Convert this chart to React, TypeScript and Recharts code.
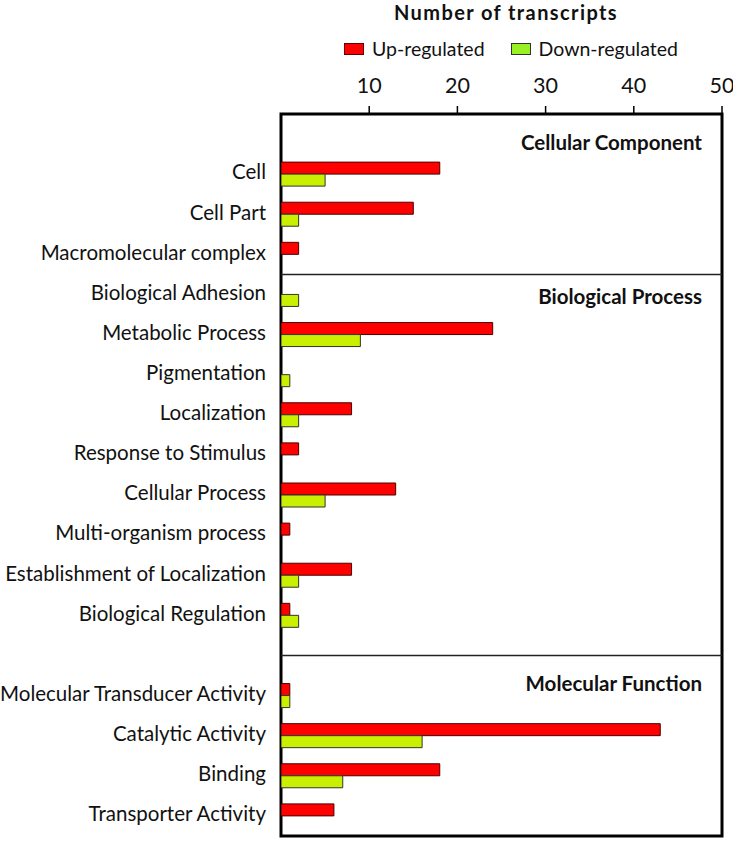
import React from "react";
import {
  BarChart,
  Bar,
  XAxis,
  YAxis,
  ReferenceLine,
  ReferenceArea,
  Legend,
} from "recharts";

// Categories (top to bottom). "" and " " are blank rows (section header / gap).
const categories: string[] = [
  "",
  "Cell",
  "Cell Part",
  "Macromolecular complex",
  "Biological Adhesion",
  "Metabolic Process",
  "Pigmentation",
  "Localization",
  "Response to Stimulus",
  "Cellular Process",
  "Multi-organism process",
  "Establishment of Localization",
  "Biological Regulation",
  " ",
  "Molecular Transducer Activity",
  "Catalytic Activity",
  "Binding",
  "Transporter Activity",
];

const upRegulated: (number | null)[] = [
  null, 18, 15, 2, null, 24, null, 8, 2, 13, 1, 8, 1, null, 1, 43, 18, 6,
];
const downRegulated: (number | null)[] = [
  null, 5, 2, null, 2, 9, 1, 2, null, 5, null, 2, 2, null, 1, 16, 7, null,
];

const xTicks: number[] = [10, 20, 30, 40, 50];
const title = "Number of transcripts";
const seriesNames = ["Up-regulated", "Down-regulated"];
const sectionTitles = ["Cellular Component", "Biological Process", "Molecular Function"];

const data = categories.map((c, i) => ({
  category: c,
  up: upRegulated[i],
  down: downRegulated[i],
}));

const FONT = "Lato, 'Open Sans', sans-serif";
const RED = "#FF0000";
const GREEN = "#C8F000";
const LEGEND_GREEN = "#99F022";

const HeaderLabel = (props: any) => {
  const { viewBox, text, dy } = props;
  if (!viewBox) return null;
  const x = viewBox.x + viewBox.width - 20;
  const y = viewBox.y + dy;
  return (
    <text
      x={x}
      y={y}
      textAnchor="end"
      fontFamily={FONT}
      fontWeight={700}
      fontSize={20.5}
      fill="#111"
    >
      {text}
    </text>
  );
};

const LegendContent = () => (
  <div style={{ position: "relative", width: 733, height: 70, fontFamily: FONT }}>
    <div
      style={{
        position: "absolute",
        left: 0,
        width: 1012,
        top: 0,
        textAlign: "center",
        fontWeight: 700,
        fontSize: 20,
        letterSpacing: 1.4,
        lineHeight: "24px",
        color: "#111",
      }}
    >
      {title}
    </div>
    <div
      style={{
        position: "absolute",
        left: 344,
        top: 37,
        display: "flex",
        alignItems: "center",
        fontSize: 19.5,
        lineHeight: "24px",
        color: "#111",
      }}
    >
      <span
        style={{
          display: "inline-block",
          width: 18,
          height: 10,
          background: RED,
          border: "1px solid #600",
          marginRight: 8,
        }}
      />
      <span style={{ marginRight: 26 }}>{seriesNames[0]}</span>
      <span
        style={{
          display: "inline-block",
          width: 18,
          height: 10,
          background: LEGEND_GREEN,
          border: "1px solid #333",
          marginRight: 8,
        }}
      />
      <span>{seriesNames[1]}</span>
    </div>
  </div>
);

export default function App() {
  return (
    <div style={{ position: "absolute", left: 0, top: 0, background: "#fff" }}>
      <BarChart
        width={733}
        height={841}
        data={data}
        layout="vertical"
        margin={{ top: 0, right: 11, bottom: 5, left: 0 }}
        barGap={0}
        barSize={12}
      >
        <XAxis
          type="number"
          orientation="top"
          domain={[0, 50]}
          ticks={xTicks}
          height={114}
          axisLine={false}
          tickLine={{ stroke: "#000", strokeWidth: 1.5 }}
          tickSize={8}
          tickMargin={13}
          tick={{ fontFamily: FONT, fontSize: 21.5, fill: "#111" }}
          allowDataOverflow
        />
        <YAxis
          type="category"
          dataKey="category"
          width={281}
          axisLine={false}
          tickLine={false}
          tickSize={6}
          tickMargin={9}
          interval={0}
          tick={{ fontFamily: FONT, fontSize: 20.5, fill: "#111", dy: -2 }}
        />
        <Legend
          layout="vertical"
          align="center"
          verticalAlign="middle"
          wrapperStyle={{ top: 0, left: 0, width: 733, height: 70 }}
          content={<LegendContent />}
        />
        <ReferenceLine
          y=""
          stroke="none"
          label={<HeaderLabel text={sectionTitles[0]} dy={15.5} />}
        />
        <ReferenceLine
          y="Macromolecular complex"
          position="end"
          stroke="#222"
          strokeWidth={1.5}
          label={<HeaderLabel text={sectionTitles[1]} dy={29.5} />}
        />
        <ReferenceLine
          y=" "
          stroke="#222"
          strokeWidth={1.5}
          label={<HeaderLabel text={sectionTitles[2]} dy={35.5} />}
        />
        <Bar
          dataKey="up"
          name={seriesNames[0]}
          fill={RED}
          stroke="#4a0000"
          strokeWidth={1}
          isAnimationActive={false}
        />
        <Bar
          dataKey="down"
          name={seriesNames[1]}
          fill={GREEN}
          stroke="#333"
          strokeWidth={1}
          isAnimationActive={false}
        />
        <ReferenceArea
          x1={0}
          x2={50}
          fill="none"
          fillOpacity={0}
          stroke="#000"
          strokeWidth={3}
          ifOverflow="visible"
        />
      </BarChart>
    </div>
  );
}
